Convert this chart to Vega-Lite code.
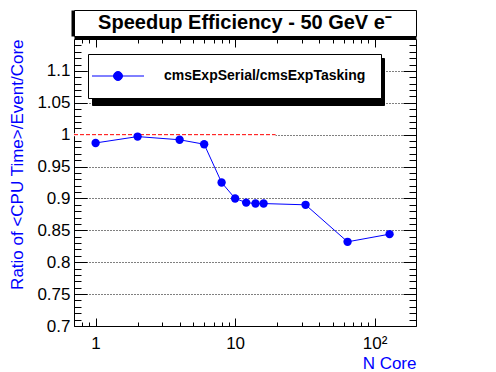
{
  "$schema": "https://vega.github.io/schema/vega-lite/v6.json",
  "padding": {"left": 8, "top": 9, "right": 0, "bottom": 0},
  "bounds": "flush",
  "spacing": 3,
  "resolve": {"scale": {"color": "independent", "shape": "independent"}, "legend": {"color": "independent", "shape": "independent"}},
  "config": {
    "font": "Liberation Sans",
    "view": {"stroke": "black", "strokeWidth": 1},
    "axis": {"labelFont": "Liberation Sans", "titleFont": "Liberation Sans", "labelColor": "black", "tickColor": "black", "domain": false, "tickWidth": 1}
  },
  "datasets": {
    "ratio": [
      {"n": 1, "r": 0.987, "series": "cmsExpSerial/cmsExpTasking"},
      {"n": 2, "r": 0.997, "series": "cmsExpSerial/cmsExpTasking"},
      {"n": 4, "r": 0.992, "series": "cmsExpSerial/cmsExpTasking"},
      {"n": 6, "r": 0.985, "series": "cmsExpSerial/cmsExpTasking"},
      {"n": 8, "r": 0.925, "series": "cmsExpSerial/cmsExpTasking"},
      {"n": 10, "r": 0.9, "series": "cmsExpSerial/cmsExpTasking"},
      {"n": 12, "r": 0.8935, "series": "cmsExpSerial/cmsExpTasking"},
      {"n": 14, "r": 0.892, "series": "cmsExpSerial/cmsExpTasking"},
      {"n": 16, "r": 0.892, "series": "cmsExpSerial/cmsExpTasking"},
      {"n": 32, "r": 0.89, "series": "cmsExpSerial/cmsExpTasking"},
      {"n": 64, "r": 0.832, "series": "cmsExpSerial/cmsExpTasking"},
      {"n": 128, "r": 0.844, "series": "cmsExpSerial/cmsExpTasking"}
    ],
    "ref": [{"n": 0.7, "r": 1}, {"n": 19.5, "r": 1}],
    "head": [{"t": "Speedup Efficiency - 50 GeV e⁻"}]
  },
  "vconcat": [
    {
      "width": 342,
      "height": 26,
      "view": {"stroke": "black", "strokeWidth": 1, "fill": "white"},
      "data": {"name": "head"},
      "mark": {"type": "text", "font": "Liberation Sans", "fontWeight": "bold", "fontSize": 20, "color": "black"},
      "encoding": {
        "text": {"field": "t"},
        "x": {"datum": 0.5, "type": "quantitative", "scale": {"domain": [0, 1]},
          "axis": {"orient": "bottom", "domain": true, "domainColor": "black", "domainWidth": 3, "offset": 1.5, "ticks": false, "labels": false, "grid": false, "title": null}},
        "y": {"datum": 0.5, "type": "quantitative", "scale": {"domain": [0, 1]},
          "axis": {"orient": "left", "domain": true, "domainColor": "black", "domainWidth": 3, "offset": 1.5, "ticks": false, "labels": false, "grid": false, "title": null}}
      }
    },
    {
      "width": 342,
      "height": 287,
      "resolve": {"axis": {"x": "independent", "y": "independent"}},
      "layer": [
        {
          "data": {"name": "ref"},
          "mark": {"type": "line", "color": "white", "strokeWidth": 3, "clip": true},
          "encoding": {
            "x": {"field": "n", "type": "quantitative",
              "scale": {"type": "log", "domain": [0.7, 198], "nice": false},
              "axis": {"orient": "bottom", "values": [1, 10, 100], "labelExpr": "datum.value >= 100 ? '10²' : datum.label",
                "tickSize": -8, "labelPadding": 17, "labelFontSize": 17, "grid": false,
                "title": "N Core", "titleAnchor": "end", "titleColor": "#0000ff", "titleFontSize": 17, "titleFontWeight": "normal", "titlePadding": 4}},
            "y": {"field": "r", "type": "quantitative",
              "scale": {"domain": [0.7, 1.15], "nice": false, "zero": false},
              "axis": {"orient": "left", "values": [0.7, 0.75, 0.8, 0.85, 0.9, 0.95, 1, 1.05, 1.1], "format": ".2~f",
                "tickSize": -13, "labelPadding": 17, "labelFontSize": 17,
                "grid": true, "gridColor": "black", "gridDash": [1, 2], "gridOpacity": 1, "gridWidth": 1,
                "title": "Ratio of <CPU Time>/Event/Core", "titleAnchor": "end", "titleColor": "#0000ff", "titleFontSize": 17, "titleFontWeight": "normal", "titlePadding": 10}}
          }
        },
        {
          "data": {"name": "ref"},
          "mark": {"type": "line", "color": "#ff0000", "strokeDash": [4, 2], "strokeWidth": 1, "clip": true},
          "encoding": {
            "x": {"field": "n", "type": "quantitative", "axis": null},
            "y": {"field": "r", "type": "quantitative", "axis": null}
          }
        },
        {
          "data": {"name": "ratio"},
          "mark": {"type": "line", "strokeWidth": 1},
          "encoding": {
            "x": {"field": "n", "type": "quantitative",
              "axis": {"orient": "bottom", "values": [0.8, 0.9, 2, 3, 4, 5, 6, 7, 8, 9, 20, 30, 40, 50, 60, 70, 80, 90], "labels": false, "tickSize": -4, "grid": false, "title": null}},
            "y": {"field": "r", "type": "quantitative",
              "axis": {"orient": "left", "values": [0.71, 0.72, 0.73, 0.74, 0.76, 0.77, 0.78, 0.79, 0.81, 0.82, 0.83, 0.84, 0.86, 0.87, 0.88, 0.89, 0.91, 0.92, 0.93, 0.94, 0.96, 0.97, 0.98, 0.99, 1.01, 1.02, 1.03, 1.04, 1.06, 1.07, 1.08, 1.09, 1.11, 1.12, 1.13, 1.14], "labels": false, "tickSize": -7, "grid": false, "title": null}},
            "color": {"field": "series", "type": "nominal",
              "scale": {"domain": ["cmsExpSerial/cmsExpTasking"], "range": ["#0000ff"]},
              "legend": {"orient": "none", "legendX": 14, "legendY": 15, "title": null, "zindex": 2,
                "symbolType": "M-4,0L4,0M-0.69,0A0.69,0.69,0,1,1,0.69,0A0.69,0.69,0,1,1,-0.69,0Z",
                "symbolSize": 169, "symbolOffset": 8, "labelOffset": 39,
                "symbolStrokeColor": "#0000ff", "symbolStrokeWidth": 1, "symbolFillColor": "#0000ff",
                "labelFont": "Liberation Sans", "labelFontSize": 14, "labelFontWeight": "bold", "labelColor": "black", "labelLimit": 400,
                "padding": 15, "strokeColor": "black", "fillColor": "white",
                "encode": {"symbols": {"update": {
                  "shape": {"value": "M-4,0L4,0M-0.69,0A0.69,0.69,0,1,1,0.69,0A0.69,0.69,0,1,1,-0.69,0Z"},
                  "size": {"value": 169},
                  "stroke": {"value": "#0000ff"}, "strokeWidth": {"value": 1}, "strokeOpacity": {"value": 1},
                  "fill": {"value": "#0000ff"}, "fillOpacity": {"value": 1}, "opacity": {"value": 1}}}}}}
          }
        },
        {
          "data": {"name": "ratio"},
          "mark": {"type": "point", "filled": true, "size": 70, "opacity": 1, "color": "#0000ff"},
          "encoding": {
            "x": {"field": "n", "type": "quantitative",
              "axis": {"orient": "top", "values": [1, 10, 100], "labels": false, "tickSize": -8, "grid": false, "title": null}},
            "y": {"field": "r", "type": "quantitative",
              "axis": {"orient": "right", "values": [0.7, 0.75, 0.8, 0.85, 0.9, 0.95, 1, 1.05, 1.1], "labels": false, "tickSize": -13, "grid": false, "title": null}}
          }
        },
        {
          "data": {"name": "ratio"},
          "mark": {"type": "point", "opacity": 0},
          "encoding": {
            "x": {"field": "n", "type": "quantitative",
              "axis": {"orient": "top", "values": [0.8, 0.9, 2, 3, 4, 5, 6, 7, 8, 9, 20, 30, 40, 50, 60, 70, 80, 90], "labels": false, "tickSize": -4, "grid": false, "title": null}},
            "y": {"field": "r", "type": "quantitative",
              "axis": {"orient": "right", "values": [0.71, 0.72, 0.73, 0.74, 0.76, 0.77, 0.78, 0.79, 0.81, 0.82, 0.83, 0.84, 0.86, 0.87, 0.88, 0.89, 0.91, 0.92, 0.93, 0.94, 0.96, 0.97, 0.98, 0.99, 1.01, 1.02, 1.03, 1.04, 1.06, 1.07, 1.08, 1.09, 1.11, 1.12, 1.13, 1.14], "labels": false, "tickSize": -7, "grid": false, "title": null}},
            "shape": {"field": "series", "type": "nominal",
              "scale": {"range": ["circle"]},
              "legend": {"orient": "none", "legendX": 18, "legendY": 19, "title": null, "zindex": 1,
                "symbolSize": 169, "symbolOffset": 8, "labelOffset": 239, "labelExpr": "''",
                "labelFont": "Liberation Sans", "labelFontSize": 14, "labelFontWeight": "bold", "labelColor": "black", "labelLimit": 400,
                "padding": 15, "strokeColor": "black", "fillColor": "black",
                "encode": {"symbols": {"update": {"size": {"value": 169}, "opacity": {"value": 0}}}}}}
          }
        }
      ]
    }
  ]
}
